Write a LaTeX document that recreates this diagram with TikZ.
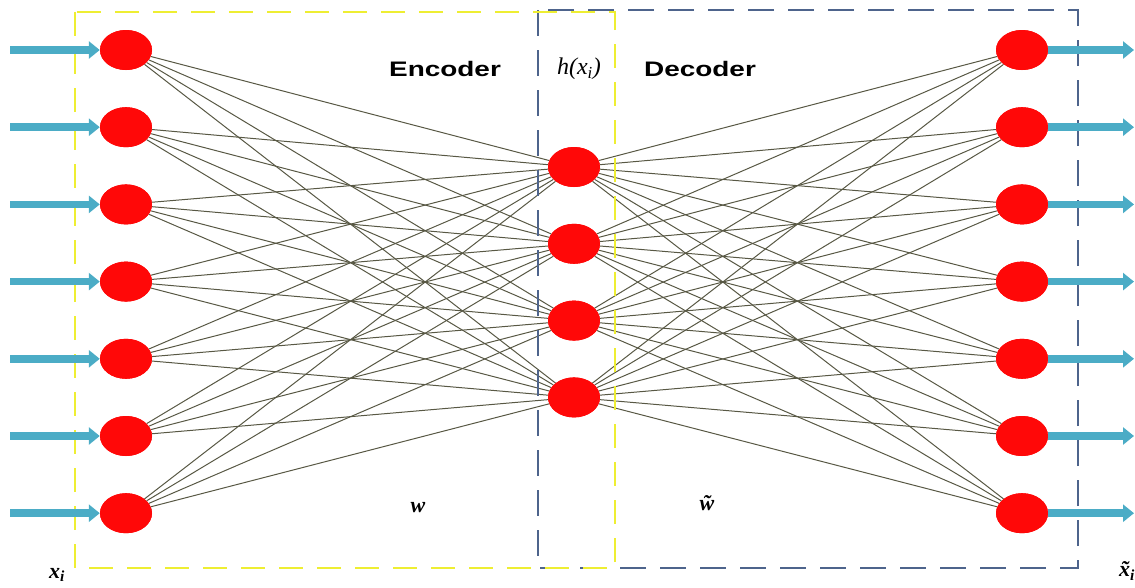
\documentclass[tikz,border=0pt]{standalone}
\usepackage{fontspec}
\usetikzlibrary{shapes.geometric,arrows.meta}
\newfontfamily\labfont{Liberation Sans}
\newfontfamily\serfont{Liberation Serif}
\definecolor{nred}{RGB}{255,8,8}
\definecolor{wirec}{RGB}{88,88,68}
\definecolor{aqua}{RGB}{75,172,198}
\definecolor{ybox}{RGB}{238,238,50}
\definecolor{bbox}{RGB}{78,100,140}
\begin{document}
\begin{tikzpicture}[x=1pt,y=-1pt,
  neuron/.style={ellipse, fill=nred, minimum width=52pt, minimum height=40pt, inner sep=0pt},
  wire/.style={draw=wirec, line width=1pt},
  flowarrow/.style={draw=aqua, line width=7.5pt, -{Triangle[length=11pt,width=17pt]}},
  encbox/.style={draw=ybox, line width=2.6pt, dash pattern=on 24pt off 14pt},
  decbox/.style={draw=bbox, line width=2pt, dash pattern=on 26pt off 14pt},
  title/.style={font=\labfont\bfseries\fontsize{21}{24}\selectfont},
  mlabel/.style={inner sep=1pt, font=\serfont\itshape\fontsize{24}{26}\selectfont},
  blabel/.style={inner sep=1pt, font=\serfont\bfseries\itshape\fontsize{22}{24}\selectfont}]
\useasboundingbox (0,0) rectangle (1135,587);
% neurons
\foreach \k in {1,...,7}{
  \pgfmathsetmacro{\yy}{50+77.2*(\k-1)}
  \node[neuron] (L\k) at (126,\yy) {};
  \node[neuron] (R\k) at (1022,\yy) {};
  \coordinate (in\k) at (10,\yy);
  \coordinate (out\k) at (1134,\yy);
}
\foreach \k in {1,...,4}{
  \pgfmathsetmacro{\yy}{167+76.8*(\k-1)}
  \node[neuron] (H\k) at (574,\yy) {};
}
% wires
\foreach \a in {1,...,7}{
  \foreach \b in {1,...,4}{
    \draw[wire] (L\a) -- (H\b);
    \draw[wire] (H\b) -- (R\a);
  }
}
% boxes
\draw[decbox] (538,10) rectangle (1078,568);
\draw[encbox] (75,12) rectangle (615,568);
% redraw neurons on top
\foreach \k in {1,...,7}{
  \node[neuron] at (L\k) {};
  \node[neuron] at (R\k) {};
}
\foreach \k in {1,...,4}{
  \node[neuron] at (H\k) {};
}
% arrows
\foreach \k in {1,...,7}{
  \draw[flowarrow] (in\k) -- (L\k.west);
  \draw[flowarrow] (R\k.east) -- (out\k);
}
% labels
\node[title] (enc) at (445,69) {\scalebox{1.33}[1]{Encoder}};
\node[title] (dec) at (700,69) {\scalebox{1.33}[1]{Decoder}};
\node[mlabel] (hx) at (579,69) {h(x\textsubscript{i})};
\node[blabel] (w) at (418,508) {w};
\node[blabel] (wt) at (707,503) {\~{w}};
\node[blabel] (xi) at (57,575) {x\textsubscript{i}};
\node[blabel] (xt) at (1127,571) {\~{x}\textsubscript{i}};
\end{tikzpicture}
\end{document}
